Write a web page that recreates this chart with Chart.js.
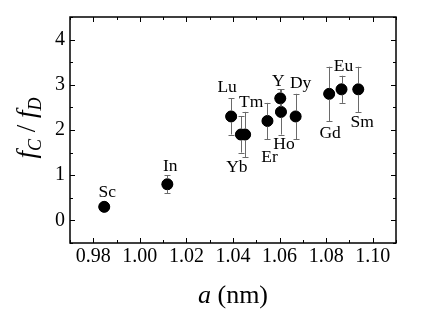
<!DOCTYPE html>
<html>
<head>
<meta charset="utf-8">
<script src="https://cdn.jsdelivr.net/npm/chart.js@4/dist/chart.umd.min.js"></script>
<style>
  html, body { margin: 0; padding: 0; background: #fff; }
  #wrap { width: 436px; height: 318px; }
</style>
</head>
<body>
<div id="wrap"><canvas id="chart" width="436" height="318"></canvas></div>
<script>
// data
var elements = ["Sc", "In", "Lu", "Yb", "Tm", "Er", "Y", "Ho", "Dy", "Gd", "Eu", "Sm"];
var latticeA = [0.9847, 1.0118, 1.0392, 1.0434, 1.0452, 1.0548, 1.0603, 1.0606, 1.0669, 1.0813, 1.0866, 1.0938];
var ratio    = [0.30, 0.80, 2.30, 1.90, 1.90, 2.20, 2.70, 2.40, 2.30, 2.80, 2.90, 2.90];
var ratioErr = [0.00, 0.20, 0.40, 0.40, 0.50, 0.40, 0.20, 0.50, 0.50, 0.60, 0.30, 0.50];
var xTicks = ["0.98", "1.00", "1.02", "1.04", "1.06", "1.08", "1.10"];
var yTicks = ["0", "1", "2", "3", "4"];

// where each element label sits relative to its point (px)
var labelOffsets = [[3, -14], [3, -18], [-4, -29], [-4, 33], [6, -32], [2, 36], [-2, -17], [3, 32], [5, -33], [1, 40], [2, -23], [4, 33]];

var serif = "'Liberation Serif', 'DejaVu Serif', serif";

var points = latticeA.map(function(a, i) { return { x: a, y: ratio[i] }; });

// error bars, element labels, inward ticks and frame
var extras = {
  id: "extras",
  afterDatasetsDraw: function(chart) {
    var ctx = chart.ctx, xs = chart.scales.x, ys = chart.scales.y, ca = chart.chartArea;
    ctx.save();

    // frame
    ctx.strokeStyle = "#000";
    ctx.lineWidth = 1.5;
    ctx.strokeRect(ca.left, ca.top, ca.right - ca.left, ca.bottom - ca.top);

    // ticks on all four sides, pointing inward
    ctx.lineWidth = 1;
    for (var v = 0.97; v <= 1.1101; v += 0.01) {
      var px = Math.round(xs.getPixelForValue(v)) + 0.5;
      var major = Math.abs(Math.round(v * 100) % 2) === 0;
      var len = major ? 5 : 3;
      ctx.beginPath();
      ctx.moveTo(px, ca.bottom); ctx.lineTo(px, ca.bottom - len);
      ctx.moveTo(px, ca.top); ctx.lineTo(px, ca.top + len);
      ctx.stroke();
    }
    for (var w = -0.5; w <= 4.5001; w += 0.5) {
      var py = Math.round(ys.getPixelForValue(w)) + 0.5;
      var lenY = (Math.abs(w % 1) < 0.01) ? 5 : 3;
      ctx.beginPath();
      ctx.moveTo(ca.left, py); ctx.lineTo(ca.left + lenY, py);
      ctx.moveTo(ca.right, py); ctx.lineTo(ca.right - lenY, py);
      ctx.stroke();
    }

    // error bars
    ctx.strokeStyle = "#6a6a6a";
    ctx.lineWidth = 1;
    for (var i = 0; i < elements.length; i++) {
      if (!ratioErr[i]) continue;
      var ex = Math.round(xs.getPixelForValue(latticeA[i])) + 0.5;
      var top = ys.getPixelForValue(ratio[i] + ratioErr[i]);
      var bot = ys.getPixelForValue(ratio[i] - ratioErr[i]);
      ctx.beginPath();
      ctx.moveTo(ex, top); ctx.lineTo(ex, bot);
      ctx.moveTo(ex - 3, Math.round(top) + 0.5); ctx.lineTo(ex + 3, Math.round(top) + 0.5);
      ctx.moveTo(ex - 3, Math.round(bot) + 0.5); ctx.lineTo(ex + 3, Math.round(bot) + 0.5);
      ctx.stroke();
    }

    // redraw markers on top of the bars
    ctx.fillStyle = "#000";
    for (var k = 0; k < elements.length; k++) {
      ctx.beginPath();
      ctx.arc(xs.getPixelForValue(latticeA[k]), ys.getPixelForValue(ratio[k]), 5.5, 0, Math.PI * 2);
      ctx.fill();
    }

    // element labels
    ctx.font = "17.5px " + serif;
    ctx.textAlign = "center";
    ctx.textBaseline = "middle";
    for (var j = 0; j < elements.length; j++) {
      var lx = xs.getPixelForValue(latticeA[j]) + labelOffsets[j][0];
      var ly = ys.getPixelForValue(ratio[j]) + labelOffsets[j][1];
      ctx.fillText(elements[j], lx, ly);
    }

    // x title: a (nm)
    ctx.textAlign = "left";
    ctx.textBaseline = "alphabetic";
    var cx = (ca.left + ca.right) / 2;
    ctx.font = "italic 26px " + serif;
    var wa = ctx.measureText("a").width;
    ctx.font = "26px " + serif;
    var wn = ctx.measureText(" (nm)").width;
    var sx = cx - (wa + wn) / 2;
    ctx.font = "italic 26px " + serif;
    ctx.fillText("a", sx, 303);
    ctx.font = "26px " + serif;
    ctx.fillText(" (nm)", sx + wa, 303);

    // y title: f_C / f_D, rotated
    ctx.translate(35, 128);
    ctx.rotate(-Math.PI / 2);
    var parts = [
      ["f", "italic 27px ", 0],
      ["C", "italic 18px ", 6],
      [" / ", "27px ", 0],
      ["f", "italic 27px ", 0],
      ["D", "italic 18px ", 6]
    ];
    var total = 0;
    parts.forEach(function(p) { ctx.font = p[1] + serif; total += ctx.measureText(p[0]).width; });
    var px0 = -total / 2;
    parts.forEach(function(p) {
      ctx.font = p[1] + serif;
      ctx.fillText(p[0], px0, p[2]);
      px0 += ctx.measureText(p[0]).width;
    });

    ctx.restore();
  }
};

new Chart(document.getElementById("chart"), {
  type: "scatter",
  data: {
    datasets: [{
      data: points,
      backgroundColor: "#000",
      borderColor: "#000",
      pointRadius: 5.5,
      pointHoverRadius: 5.5
    }]
  },
  options: {
    responsive: false,
    animation: false,
    events: [],
    layout: { padding: { left: 0, right: 40, top: 15, bottom: 0 } },
    plugins: { legend: { display: false }, tooltip: { enabled: false } },
    scales: {
      x: {
        type: "linear",
        min: 0.97,
        max: 1.11,
        afterFit: function(s) { s.height = 75; },
        afterBuildTicks: function(s) {
          s.ticks = xTicks.map(function(t) { return { value: parseFloat(t) }; });
        },
        ticks: {
          color: "#000",
          font: { family: serif, size: 20 },
          padding: 2,
          maxRotation: 0,
          autoSkip: false,
          callback: function(v) { return v.toFixed(2); }
        },
        grid: { display: false, drawTicks: false },
        border: { display: false }
      },
      y: {
        min: -0.5,
        max: 4.5,
        afterFit: function(s) { s.width = 70; },
        afterBuildTicks: function(s) {
          s.ticks = yTicks.map(function(t) { return { value: parseFloat(t) }; });
        },
        ticks: {
          color: "#000",
          font: { family: serif, size: 20 },
          padding: 5,
          callback: function(v) { return String(v); }
        },
        grid: { display: false, drawTicks: false },
        border: { display: false }
      }
    }
  },
  plugins: [extras]
});
</script>
</body>
</html>
